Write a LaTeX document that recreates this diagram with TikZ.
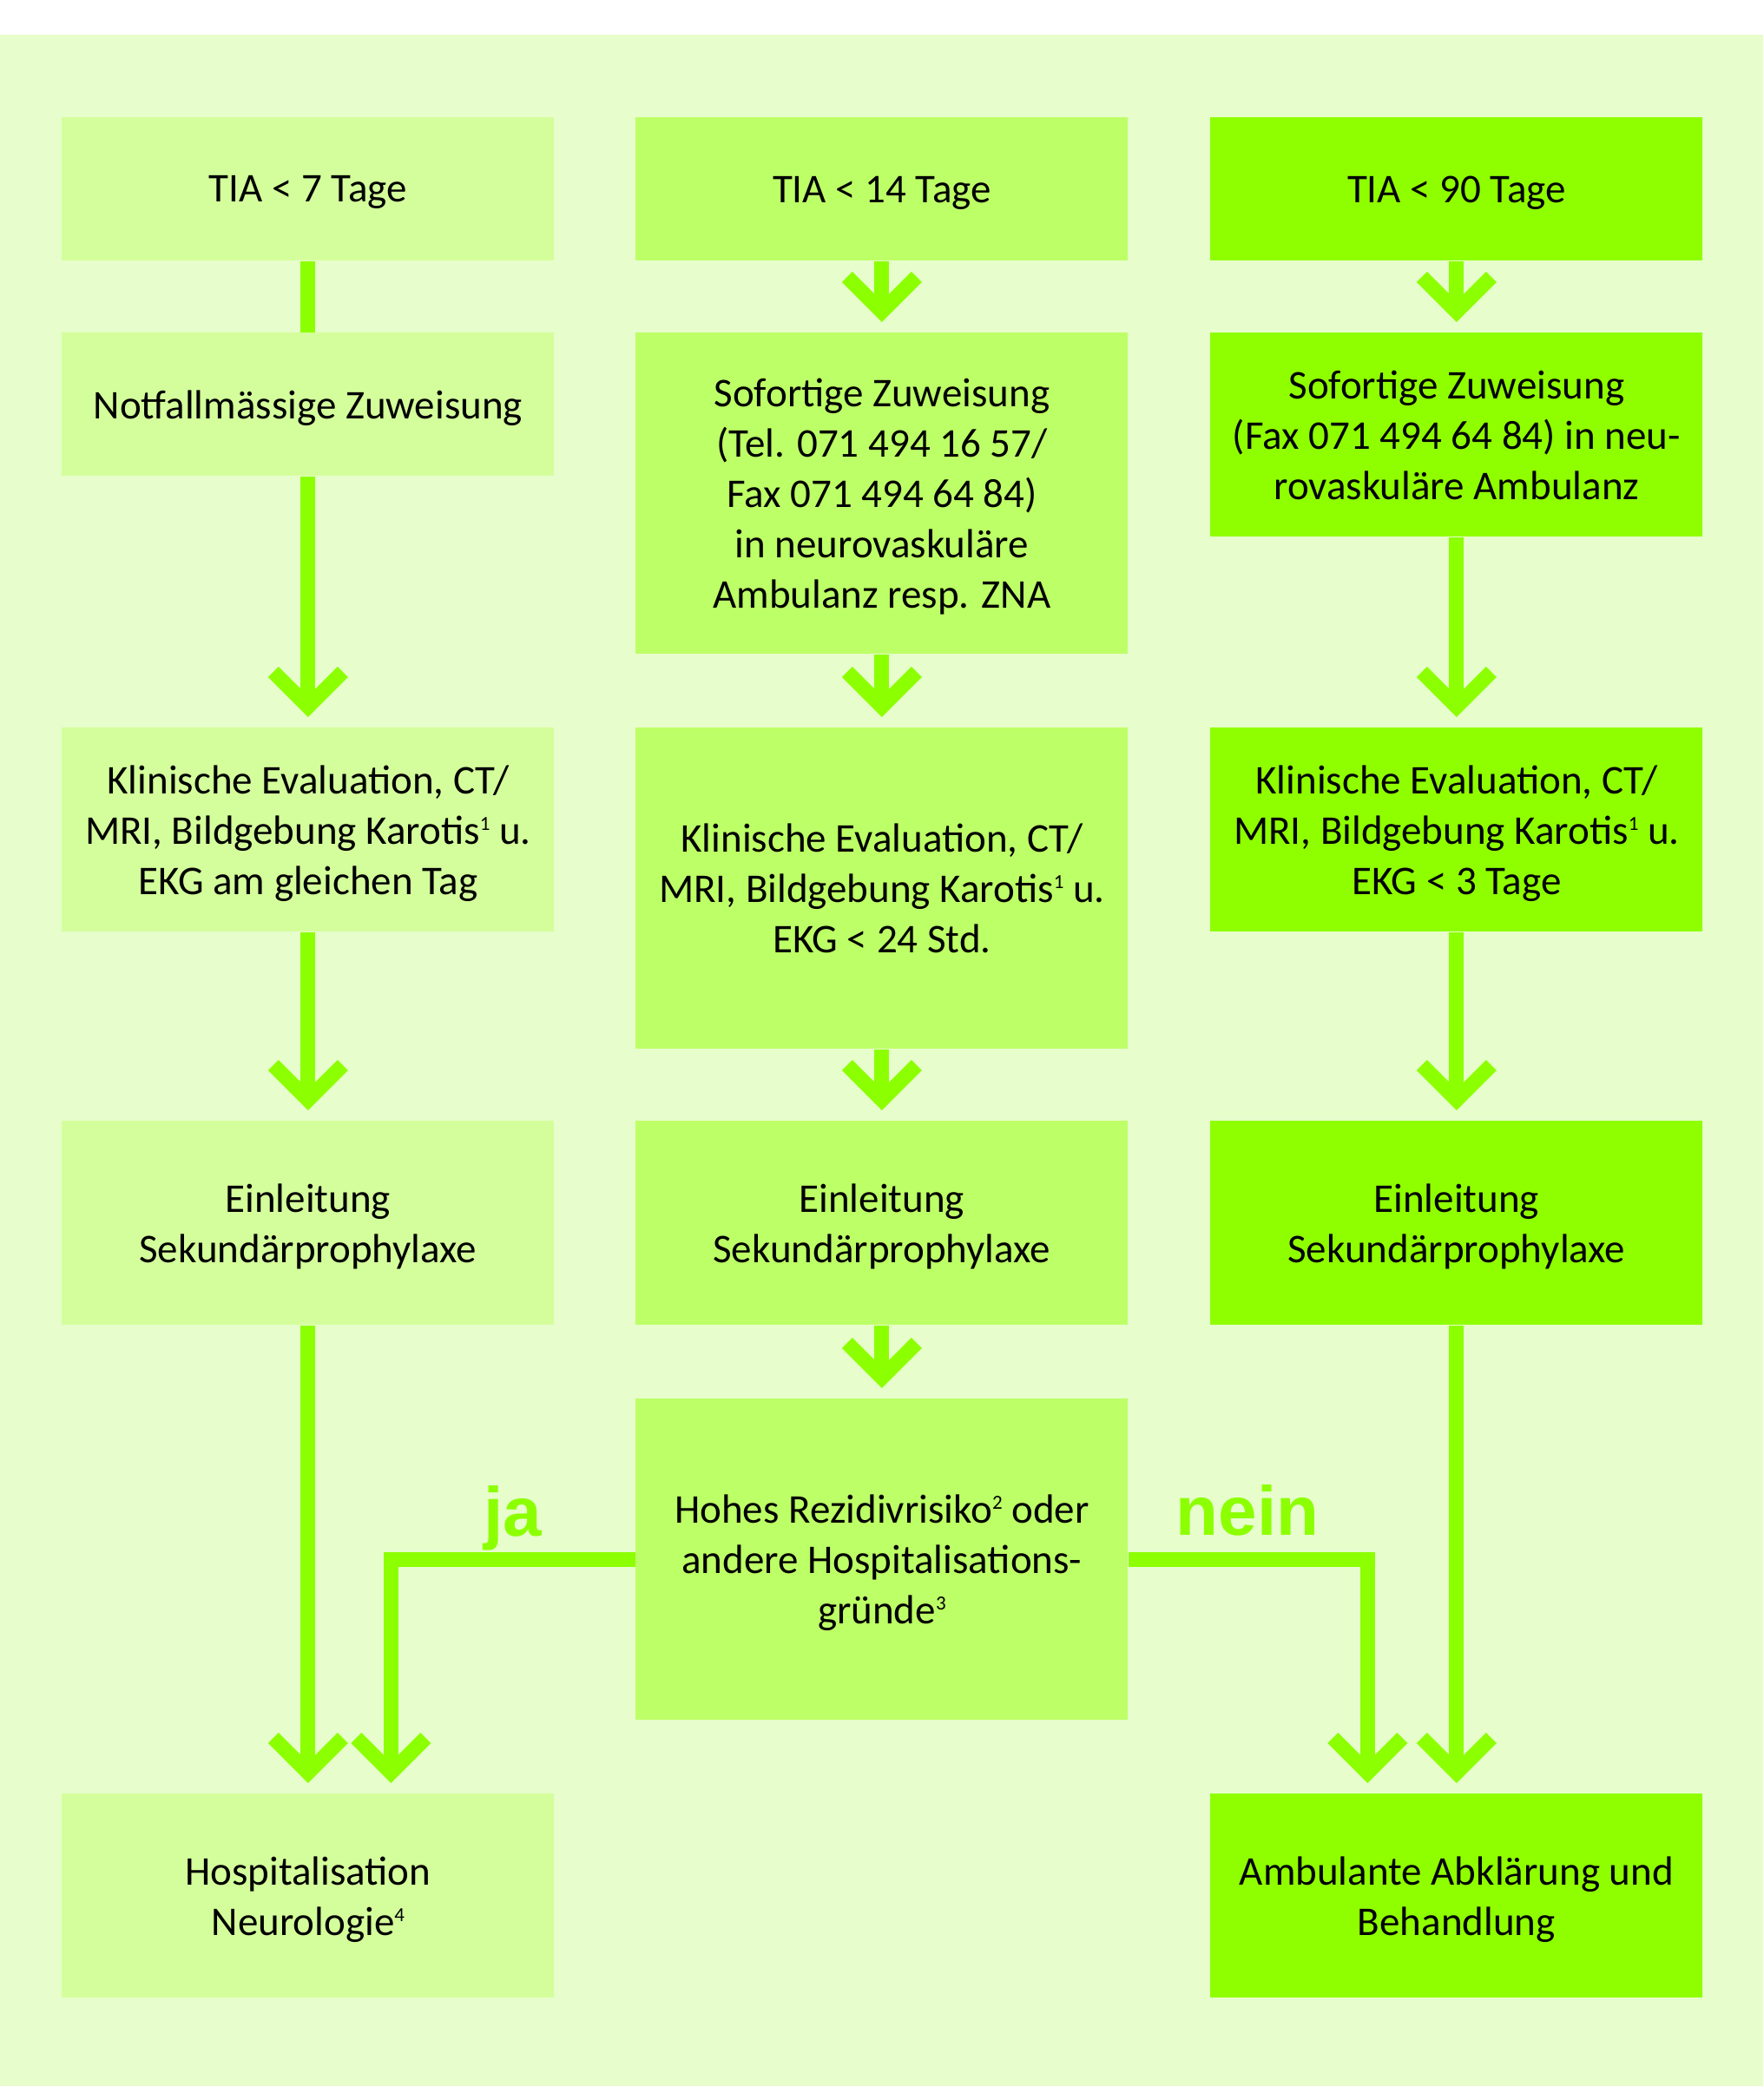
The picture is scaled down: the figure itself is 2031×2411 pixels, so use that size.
\documentclass[tikz,border=0pt]{standalone}
\usepackage{fontspec}
\setmainfont{Carlito}
\newfontfamily\answerfont{Liberation Sans}
\usepackage{tikz}
\usetikzlibrary{arrows.meta}
\definecolor{bglight}{RGB}{231,253,203}
\definecolor{greenA}{RGB}{212,254,155}
\definecolor{greenB}{RGB}{189,255,102}
\definecolor{greenC}{RGB}{143,255,0}
\definecolor{flowgreen}{RGB}{140,255,0}
\newcommand{\fnmark}[1]{\raisebox{0.72ex}{\fontsize{11.5}{11.5}\selectfont#1}}
\tikzstyle{flowbox} = [rectangle, inner sep=0pt, anchor=north west,
  minimum width=283.5pt, align=center, text=black, text depth=0pt,
  font=\fontsize{23.5}{29}\selectfont]
\tikzstyle{lowbox} = [minimum height=82.5pt]
\tikzstyle{midbox} = [minimum height=117.5pt]
\tikzstyle{tallbox} = [minimum height=185pt]
\tikzstyle{plainline} = [line width=8.5pt, draw=flowgreen]
\tikzstyle{flowline} = [plainline, shorten >=6pt,
  -{Straight Barb[length=20pt, width=40pt]}]
\tikzstyle{answer} = [text=flowgreen, anchor=base, inner sep=0pt,
  font=\answerfont\bfseries\fontsize{40}{40}\selectfont]
\begin{document}
\begin{tikzpicture}[x=0.5pt, y=-0.5pt]
  \useasboundingbox (0,0) rectangle (2031,2411);
  \fill[bglight] (0,40) rectangle (2031,2403);

  % TIA < 7 Tage
  \node[flowbox, lowbox, fill=greenA] (l1) at (71,135) {TIA < 7 Tage};
  \node[flowbox, lowbox, fill=greenA] (l2) at (71,383) {Notfallmässige Zuweisung};
  \node[flowbox, midbox, fill=greenA] (l3) at (71,838)
    {Klinische Evaluation, CT/\\MRI, Bildgebung Karotis\fnmark{1} u.\\EKG am gleichen Tag};
  \node[flowbox, midbox, fill=greenA] (l4) at (71,1291) {Einleitung\\Sekundärprophylaxe};
  \node[flowbox, midbox, fill=greenA] (l5) at (71,2066) {Hospitalisation\\Neurologie\fnmark{4}};

  % TIA < 14 Tage
  \node[flowbox, lowbox, fill=greenB] (m1) at (732,135) {TIA < 14 Tage};
  \node[flowbox, tallbox, fill=greenB] (m2) at (732,383)
    {Sofortige Zuweisung\\(Tel. 071 494 16 57/\\Fax 071 494 64 84)\\in neurovaskuläre\\Ambulanz resp. ZNA};
  \node[flowbox, tallbox, fill=greenB] (m3) at (732,838)
    {Klinische Evaluation, CT/\\MRI, Bildgebung Karotis\fnmark{1} u.\\EKG < 24 Std.};
  \node[flowbox, midbox, fill=greenB] (m4) at (732,1291) {Einleitung\\Sekundärprophylaxe};
  \node[flowbox, tallbox, fill=greenB] (m5) at (732,1611)
    {Hohes Rezidivrisiko\fnmark{2} oder\\andere Hospitalisations-\\gründe\fnmark{3}};

  % TIA < 90 Tage
  \node[flowbox, lowbox, fill=greenC] (r1) at (1394,135) {TIA < 90 Tage};
  \node[flowbox, midbox, fill=greenC] (r2) at (1394,383)
    {Sofortige Zuweisung\\(Fax 071 494 64 84) in neu-\\rovaskuläre Ambulanz};
  \node[flowbox, midbox, fill=greenC] (r3) at (1394,838)
    {Klinische Evaluation, CT/\\MRI, Bildgebung Karotis\fnmark{1} u.\\EKG < 3 Tage};
  \node[flowbox, midbox, fill=greenC] (r4) at (1394,1291) {Einleitung\\Sekundärprophylaxe};
  \node[flowbox, midbox, fill=greenC] (r5) at (1394,2066) {Ambulante Abklärung und\\Behandlung};

  \draw[plainline] (l1) -- (l2);
  \foreach \a/\b in {l2/l3, l3/l4, l4/l5, m1/m2, m2/m3, m3/m4, m4/m5,
                     r1/r2, r2/r3, r3/r4, r4/r5}
    \draw[flowline] (\a) -- (\b);

  % ja / nein
  \draw[flowline] (m5.west) -| ([xshift=47.75pt]l5.north);
  \draw[flowline] (m5.east) -| ([xshift=-51.25pt]r5.north);
  \node[answer] (ja) at (591,1769) {ja};
  \node[answer] (nein) at (1437,1768) {nein};
\end{tikzpicture}
\end{document}
